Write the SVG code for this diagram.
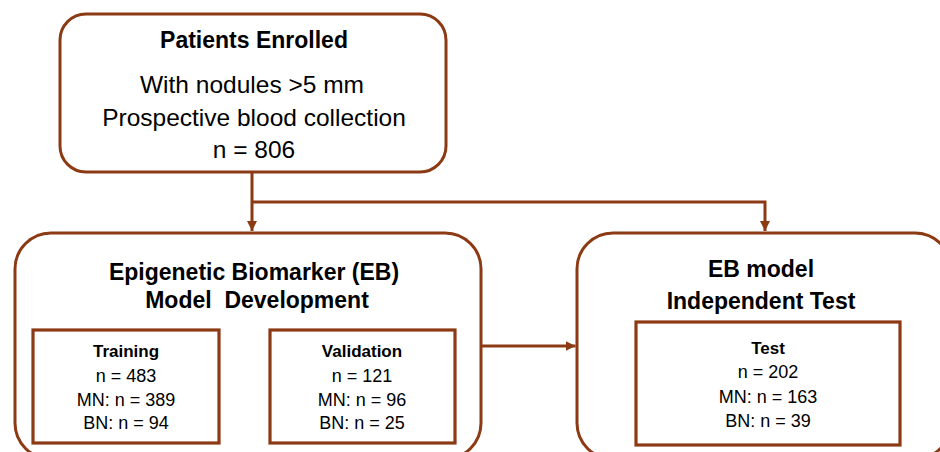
<svg xmlns="http://www.w3.org/2000/svg" width="940" height="452" viewBox="0 0 940 452">
<defs>
<style>
.box{fill:#fff;stroke:#8C3A14;stroke-width:3}
.inner{fill:#fff;stroke:#8C3A14;stroke-width:3.2}
.ln{fill:none;stroke:#8C3A14;stroke-width:3}
text{font-family:"Liberation Sans",Arial,sans-serif;fill:#000;text-anchor:middle}
.h{font-weight:bold;font-size:23px}
.b{font-size:24.5px}
.sh{font-weight:bold;font-size:17px}
.s{font-size:18px}
</style>
<marker id="arr" viewBox="0 0 10 10" refX="10" refY="5" markerWidth="10" markerHeight="10" markerUnits="userSpaceOnUse" orient="auto">
<path d="M0,0 L10,5 L0,10 z" fill="#8C3A14"/>
</marker>
</defs>
<rect width="940" height="452" fill="#fff"/>
<g id="connectors">
<path class="ln" d="M252,172 V231" marker-end="url(#arr)"/>
<path class="ln" d="M252,202 H765 V231" marker-end="url(#arr)"/>
<path class="ln" d="M219,387 H268.5" marker-end="url(#arr)"/>
<path class="ln" d="M481,346 H575.5" marker-end="url(#arr)"/>
</g>
<g id="enrolled">
<rect class="box" x="60" y="14" width="386" height="158" rx="26"/>
<text class="h" x="254" y="48">Patients Enrolled</text>
<text class="b" x="252" y="93">With nodules &gt;5 mm</text>
<text class="b" x="254" y="126">Prospective blood collection</text>
<text class="b" x="254" y="158">n = 806</text>
</g>
<g id="development">
<rect class="box" x="15" y="233" width="466" height="226" rx="36"/>
<text class="h" x="254" y="280">Epigenetic Biomarker (EB)</text>
<text class="h" x="257" y="308" xml:space="preserve">Model  Development</text>
</g>
<g id="training">
<rect class="inner" x="33" y="330" width="186" height="113"/>
<text class="sh" x="126" y="357">Training</text>
<text class="s" x="126" y="382">n = 483</text>
<text class="s" x="126" y="406">MN: n = 389</text>
<text class="s" x="126" y="429">BN: n = 94</text>
</g>
<g id="validation">
<rect class="inner" x="270" y="330" width="185" height="113"/>
<text class="sh" x="362" y="357">Validation</text>
<text class="s" x="362" y="382">n = 121</text>
<text class="s" x="362" y="406">MN: n = 96</text>
<text class="s" x="362" y="429">BN: n = 25</text>
</g>
<g id="independent">
<rect class="box" x="577" y="233" width="374" height="226" rx="36"/>
<text class="h" x="761" y="277">EB model</text>
<text class="h" x="761" y="309">Independent Test</text>
</g>
<g id="test">
<rect class="inner" x="636" y="322" width="264" height="123"/>
<text class="sh" x="768" y="354">Test</text>
<text class="s" x="768" y="378">n = 202</text>
<text class="s" x="768" y="403">MN: n = 163</text>
<text class="s" x="768" y="427">BN: n = 39</text>
</g>
</svg>
